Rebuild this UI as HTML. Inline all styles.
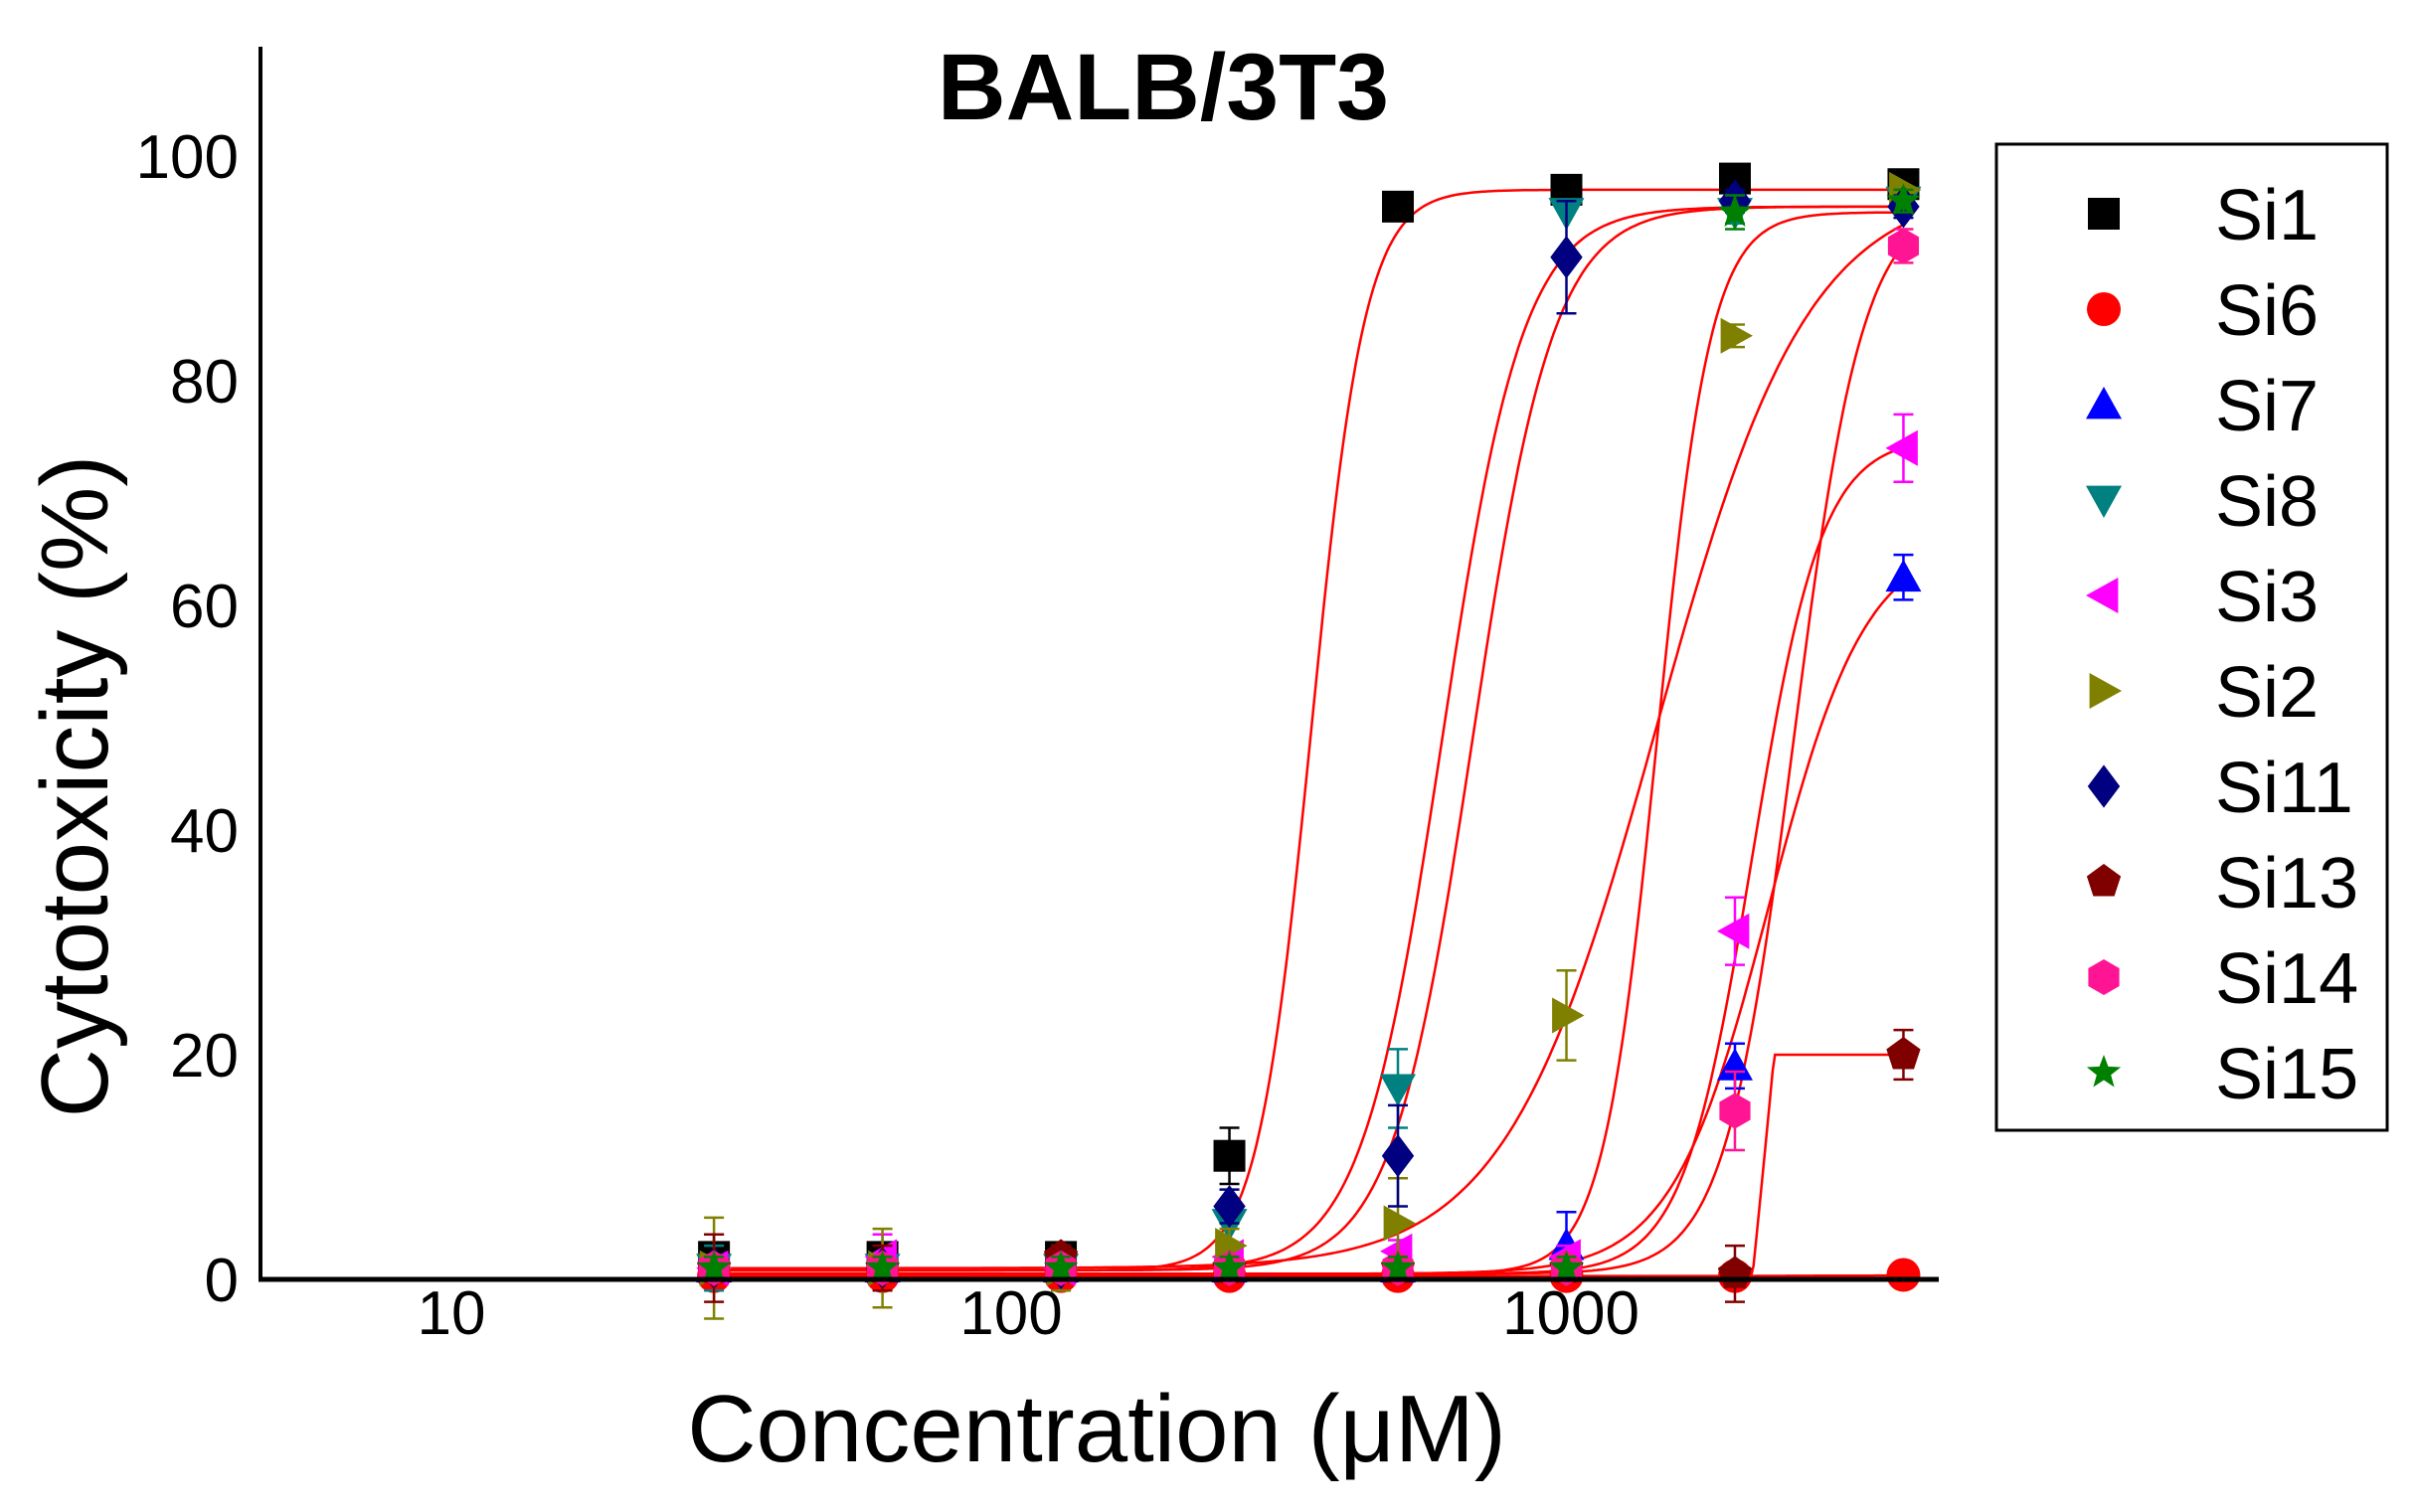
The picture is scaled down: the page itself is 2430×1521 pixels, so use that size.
<!DOCTYPE html>
<html><head><meta charset="utf-8"><style>
html,body{margin:0;padding:0;background:#fff;}
svg{display:block;font-family:"Liberation Sans",Arial,sans-serif;}
</style></head><body>
<svg id="s" width="2430" height="1521" viewBox="0 0 2430 1521" xmlns="http://www.w3.org/2000/svg">
<rect width="2430" height="1521" fill="#fff"/>
<text x="1170" y="120" font-size="95" font-weight="bold" text-anchor="middle">BALB/3T3</text>
<g font-size="62" text-anchor="end">
<text x="240" y="1309">0</text><text x="240" y="1083">20</text><text x="240" y="857">40</text>
<text x="240" y="631">60</text><text x="240" y="405">80</text><text x="240" y="179">100</text>
</g>
<g font-size="62" text-anchor="middle">
<text x="454" y="1342">10</text><text x="1017" y="1342">100</text><text x="1580" y="1342">1000</text>
</g>
<text x="1103" y="1470" font-size="96" text-anchor="middle">Concentration (μM)</text>
<text transform="translate(108,791) rotate(-90)" font-size="96" text-anchor="middle">Cytotoxicity (%)</text>
<g id="plot"></g>
<line x1="262" y1="47" x2="262" y2="1289" stroke="#000" stroke-width="4"/>
<line x1="260" y1="1287" x2="1950" y2="1287" stroke="#000" stroke-width="5"/>
<rect x="2008" y="145" width="393" height="992" fill="#fff" stroke="#000" stroke-width="3"/>
<g id="leg" font-size="72"></g>
</svg>
<script>
const NS="http://www.w3.org/2000/svg";
const X=c=>449.5+(Math.log10(c)-1)*563, Y=v=>1287-v*11.3;
const plot=document.getElementById('plot'), leg=document.getElementById('leg');
function el(t,a,p){const e=document.createElementNS(NS,t);for(const k in a)e.setAttribute(k,a[k]);(p||plot).appendChild(e);return e;}
function marker(type,cx,cy,col,p){const r=18;let pts;
 switch(type){
 case 'sq':return el('rect',{x:cx-r+2,y:cy-r+2,width:2*r-4,height:2*r-4,fill:col},p);
 case 'ci':return el('circle',{cx,cy,r:r-1,fill:col},p);
 case 'up':pts=[[0,-r],[r,r*0.8],[-r,r*0.8]];break;
 case 'dn':pts=[[0,r],[r,-r*0.8],[-r,-r*0.8]];break;
 case 'lt':pts=[[-r,0],[r*0.8,-r],[r*0.8,r]];break;
 case 'rt':pts=[[r,0],[-r*0.8,-r],[-r*0.8,r]];break;
 case 'di':pts=[[0,-r*1.2],[r*0.9,0],[0,r*1.2],[-r*0.9,0]];break;
 case 'pe':pts=[];for(let i=0;i<5;i++){const a=-Math.PI/2+i*2*Math.PI/5;pts.push([r*Math.cos(a),r*Math.sin(a)]);}break;
 case 'hx':pts=[];for(let i=0;i<6;i++){const a=-Math.PI/2+i*Math.PI/3;pts.push([r*Math.cos(a),r*Math.sin(a)]);}break;
 case 'st':pts=[];for(let i=0;i<10;i++){const a=-Math.PI/2+i*Math.PI/5,rr=i%2?r*0.42:r;pts.push([rr*Math.cos(a),rr*Math.sin(a)]);}break;
 }
 return el('polygon',{points:pts.map(q=>(cx+q[0])+','+(cy+q[1])).join(' '),fill:col},p);}
const C=[30,60,125,250,500,1000,2000,4000];
const S=[
['Si1','sq','#000',[2,2,2,11,95.5,97,98,97.5],[2,1,1,2.5,0,0,0,0],[0.8,97,350,9]],
['Si6','ci','#f00',[0.3,0.3,0.3,0.3,0.3,0.3,0.3,0.4],[0,0,0,0,0,0,0,0],[0.2,0.5,4000,1]],
['Si7','up','#00f',[1,1,1,1,1,3,19,62.5],[1,1,1,1,1,3,2,2],[0.5,66,2300,5]],
['Si8','dn','#008080',[1,1,1,5,17,95,95,96],[2,1,2,2,3.5,0,1,1],[0.8,95.5,600,6]],
['Si3','lt','#f0f',[1,2,1,2,2.5,2,31,74],[1,2,1,1,1,1,3,3],[0.5,75,2150,7]],
['Si2','rt','#808000',[1,1,1,3,5,23.5,84,97],[4.5,3.5,2,1.5,4,4,1,0],[1,97.5,1450,3.2]],
['Si11','di','#000080',[1,1,1,6.5,11,91,96,95.5],[1,1,1,1.5,4.5,5,1,1],[0.8,95.5,680,6]],
['Si13','pe','#800000',[1,1,2,1,1,1,0.5,20],[3,2,1,1,1,1,2.5,2.2],null],
['Si14','hx','#ff1493',[1,1,1,1,1,1,15,92],[1,1,1,1,1,1,3.5,1.5],[0.5,96,2550,7]],
['Si15','st','#008000',[1,1,1,1,1,1,95,96],[1,1,1,1,1,1,1.5,1],[0.5,95,1450,9]]];
S.forEach(s=>{let d='';const P=s[5];
 for(let i=0;i<=500;i++){const lc=Math.log10(30)+i*(Math.log10(4000)-Math.log10(30))/500,c=Math.pow(10,lc);let v;
  if(P){const[b,t,e,h]=P;v=b+(t-b)/(1+Math.pow(e/c,h));}
  else{v=c<2150?0.3:(c<2350?0.3+19.7*(c-2150)/200:20);}
  d+=(i?'L':'M')+X(c).toFixed(1)+' '+Y(v).toFixed(1);}
 el('path',{d,fill:'none',stroke:'#f00','stroke-width':2.5});});
S.forEach(s=>{C.forEach((c,i)=>{const x=X(c),v=s[3][i],e=s[4][i];
 if(e>0){const y1=Y(v+e),y2=Y(v-e);el('path',{d:`M${x} ${y1}V${y2}M${x-10} ${y1}H${x+10}M${x-10} ${y2}H${x+10}`,stroke:s[2],'stroke-width':2.5,fill:'none'});}
 marker(s[1],x,Y(v),s[2]);});});
S.forEach((s,i)=>{const y=215+i*96;marker(s[1],2116,y,s[2],leg);
 const t=el('text',{x:2228,y:y+26},leg);t.textContent=s[0];});
</script>
</body></html>
